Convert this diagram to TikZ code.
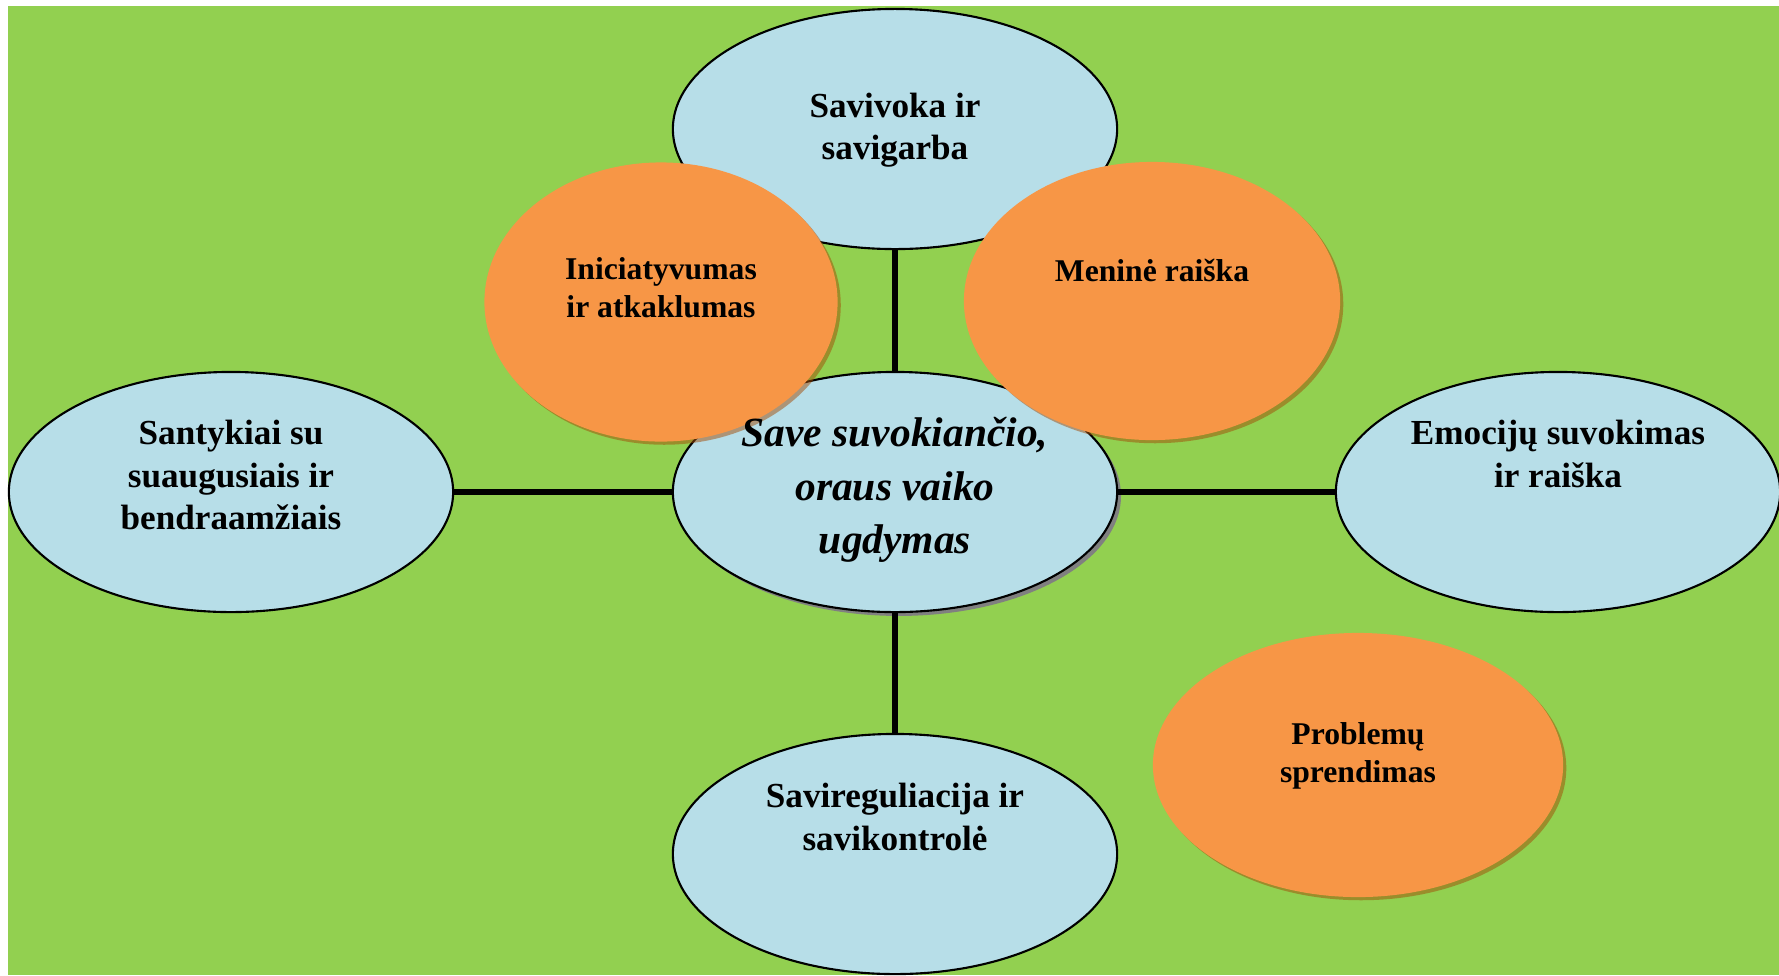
\documentclass[tikz,border=0pt]{standalone}
\usepackage{fontspec}
\setmainfont{Liberation Serif}
\usetikzlibrary{shapes.geometric, shadows, positioning}
\definecolor{bggreen}{RGB}{146,208,80}
\definecolor{paleblue}{RGB}{183,222,232}
\definecolor{accentorange}{RGB}{247,150,70}
\definecolor{shadowbrown}{RGB}{162,76,8}
\definecolor{shadowgray}{RGB}{128,128,128}

\begin{document}
\begin{tikzpicture}[x=0.01cm, y=-0.01cm,
    topic/.style={ellipse, draw=black, line width=0.6pt, fill=paleblue,
        minimum width=4.44cm, minimum height=2.40cm, inner sep=0pt},
    skill/.style={ellipse, fill=accentorange, inner sep=0pt,
        drop shadow={shadow xshift=0.9pt, shadow yshift=-0.9pt, fill=shadowbrown, opacity=0.5}},
    link/.style={line width=1.6pt},
    lbl/.style={align=center, font=\fontsize{10}{12}\selectfont\bfseries},
    lblsmall/.style={align=center, font=\fontsize{9}{10.8}\selectfont\bfseries}]
    \useasboundingbox (0,0) rectangle (1779,975);
    \fill[bggreen] (8,6) rectangle (1779,975);

    % Blue topics round the centre
    \node[topic] (savivoka) at (895,129) {};
    \node[topic] (santykiai) at (231,492) {};
    \node[topic] (emocijos) at (1558,492) {};
    \node[topic] (savireg) at (895,854) {};
    \node[topic, drop shadow={shadow xshift=1.1pt, shadow yshift=-1.1pt, fill=shadowgray, opacity=1}] (ugdymas) at (895,492) {};

    \draw[link] (ugdymas) -- (savivoka);
    \draw[link] (ugdymas) -- (santykiai);
    \draw[link] (ugdymas) -- (emocijos);
    \draw[link] (ugdymas) -- (savireg);

    % Orange skills
    \node[skill, minimum width=3.53cm, minimum height=2.79cm] (iniciatyvumas) at (661,302) {};
    \node[skill, minimum width=3.76cm, minimum height=2.78cm] (menine) at (1152,301) {};
    \node[skill, minimum width=4.10cm, minimum height=2.64cm] (problemos) at (1358,765) {};

    % Texts
    \node[lbl] (savivoka-t) at (895,130) {Savivoka ir\\savigarba};
    \node[lbl] (santykiai-t) at (231,475) {Santykiai su\\suaugusiais ir\\bendraamžiais};
    \node[lbl] (emocijos-t) at (1558,454) {Emocijų suvokimas\\ir raiška};
    \node[lbl] (savireg-t) at (895,817) {Savireguliacija ir\\savikontrolė};
    \node[align=center, font=\fontsize{11.8}{15.3}\selectfont\bfseries\itshape] (ugdymas-t) at (895,490)
        {Save suvokiančio,\\oraus vaiko\\ugdymas};
    \node[lblsmall] (iniciatyvumas-t) at (661,288) {Iniciatyvumas\\ir atkaklumas};
    \node[lblsmall] (menine-t) at (1152,270) {Meninė raiška};
    \node[lblsmall] (problemos-t) at (1358,756) {Problemų\\sprendimas};
\end{tikzpicture}
\end{document}
